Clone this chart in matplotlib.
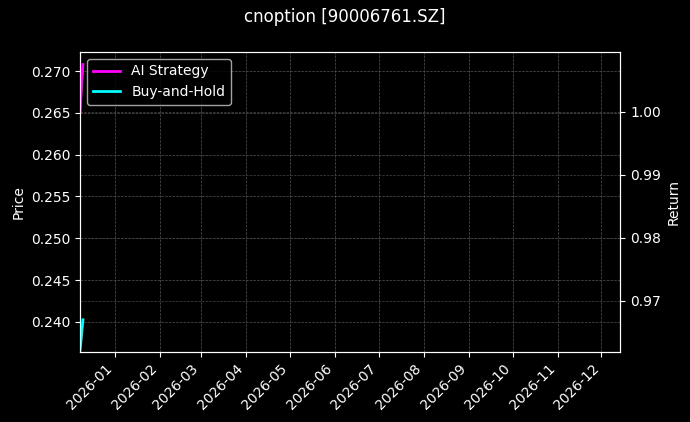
import matplotlib
matplotlib.use("Agg")
import matplotlib.pyplot as plt
import matplotlib.dates as mdates
import pandas as pd

plt.style.use("dark_background")
dates = pd.to_datetime(["2025-12-08", "2025-12-09", "2025-12-10"])
price = [0.2650, 0.2680, 0.2707]
ai_ret = [1.0000, 1.0040, 1.0075]
bh_ret = [0.9622, 0.9645, 0.9670]

fig, ax = plt.subplots(figsize=(6.9, 4.22), dpi=100)
fig.patch.set_facecolor("#000000")
ax.set_facecolor("#000000")
ax.plot(dates, price, color="red", lw=1.5)
ax.set_ylabel("Price")
ax.set_ylim(0.2364, 0.2723)
ax.grid(True, ls="--", lw=0.5, color="#555555")
ax2 = ax.twinx()
l1, = ax2.plot(dates, ai_ret, color="magenta", lw=2, label="AI Strategy")
l2, = ax2.plot(dates, bh_ret, color="cyan", lw=2, label="Buy-and-Hold")
ax2.set_ylim(0.9619, 1.0095)
ax2.set_ylabel("Return")
ax2.grid(True, ls="--", lw=0.5, color="#444444")
ax.set_xlim(pd.Timestamp("2025-12-08"), pd.Timestamp("2026-12-14"))
ax.xaxis.set_major_locator(mdates.MonthLocator())
ax.xaxis.set_major_formatter(mdates.DateFormatter("%Y-%m"))
plt.setp(ax.get_xticklabels(), rotation=45, ha="right")
ax2.legend(handles=[l1, l2], loc="upper left")
fig.suptitle("cnoption [90006761.SZ]")
fig.subplots_adjust(left=0.116, right=0.899, top=0.877, bottom=0.166)
fig.savefig("out.png", dpi=100, facecolor=fig.get_facecolor())
